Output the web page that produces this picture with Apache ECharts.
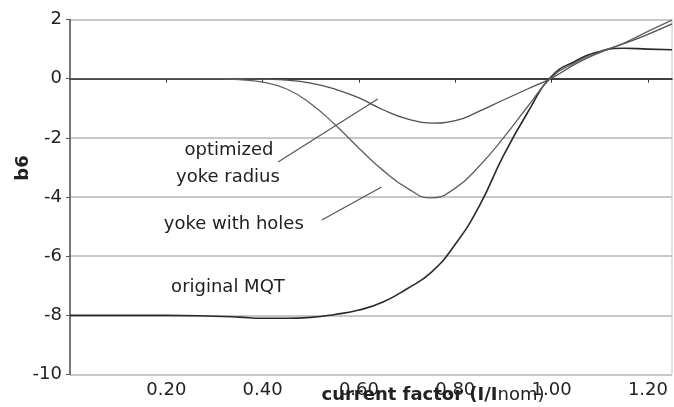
<!DOCTYPE html>
<html>
<head>
<meta charset="utf-8">
<script src="https://cdn.jsdelivr.net/npm/echarts/dist/echarts.min.js"></script>
<style>
  html, body { margin: 0; padding: 0; background: #fff; }
  #chart { width: 674px; height: 407px; }
</style>
</head>
<body>
<div id="chart"></div>
<script>
// current factor I/Inom
const xValues = [0, 0.1, 0.2, 0.3, 0.35, 0.4, 0.45, 0.5, 0.55, 0.6, 0.65, 0.7, 0.75, 0.8, 0.85, 0.9, 0.95, 1.0, 1.05, 1.1, 1.15, 1.2, 1.25]
// b6 values
const mqtValues = [-8.0, -8.0, -8.0, -8.03, -8.06, -8.1, -8.1, -8.07, -7.97, -7.82, -7.55, -7.1, -6.55, -5.6, -4.3, -2.6, -1.15, 0.08, 0.6, 0.92, 1.03, 1.0, 0.98]
const optimizedValues = [0, 0, 0, 0, 0, -0.02, -0.05, -0.15, -0.35, -0.65, -1.05, -1.36, -1.5, -1.42, -1.1, -0.72, -0.35, 0.02, 0.5, 0.88, 1.18, 1.5, 1.85]
const holesValues = [0, 0, 0, 0, -0.03, -0.12, -0.35, -0.85, -1.55, -2.35, -3.1, -3.7, -4.03, -3.7, -2.95, -2.0, -0.95, 0.05, 0.55, 0.9, 1.2, 1.6, 1.98]

// curve labels, [x, y, text]
const notes = [
  [0.330, -2.41, 'optimized'],
  [0.328, -3.32, 'yoke radius'],
  [0.340, -4.94, 'yoke with holes'],
  [0.328, -7.07, 'original MQT']
]
// leader lines from labels to curves
const leaders = [
  [[0.432, -2.82], [0.639, -0.69]],
  [[0.523, -4.78], [0.647, -3.66]]
]

const FONT = 'DejaVu Sans'
const pairs = ys => xValues.map((x, i) => [x, ys[i]])

const chart = echarts.init(document.getElementById('chart'))

const curve = (name, ys, color, width) => ({
  name,
  type: 'line',
  data: pairs(ys),
  smooth: true,
  showSymbol: false,
  lineStyle: { color, width },
  z: 3
})

chart.setOption({
  animation: false,
  grid: {
    left: 70, right: 2, top: 19.5, bottom: 32.5,
    show: true, borderColor: '#c4c4c4', borderWidth: 1
  },
  xAxis: {
    type: 'value',
    min: 0,
    max: 1.25,
    interval: 0.2,
    axisLine: { onZero: true, lineStyle: { color: '#111', width: 1.5 } },
    axisTick: { show: true, length: 4, lineStyle: { color: '#333' } },
    axisLabel: {
      margin: 7,
      showMinLabel: false,
      showMaxLabel: false,
      fontFamily: FONT,
      fontSize: 18,
      color: '#222',
      formatter: v => v.toFixed(2)
    },
    splitLine: { show: false }
  },
  yAxis: {
    type: 'value',
    min: -10,
    max: 2,
    interval: 2,
    axisLine: { show: true, lineStyle: { color: '#555', width: 1.5 } },
    axisTick: { show: true, length: 4, lineStyle: { color: '#555' } },
    axisLabel: { margin: 8, fontFamily: FONT, fontSize: 18, color: '#222' },
    splitLine: { lineStyle: { color: '#c8c8c8', width: 2 } }
  },
  series: [
    curve('original MQT', mqtValues, '#2a2a2a', 1.6),
    curve('optimized yoke radius', optimizedValues, '#505050', 1.3),
    curve('yoke with holes', holesValues, '#606060', 1.3),
    {
      name: 'notes',
      type: 'scatter',
      symbolSize: 0,
      itemStyle: { opacity: 1 },
      data: notes.map(n => ({ value: [n[0], n[1]], name: n[2] })),
      label: {
        show: true,
        position: 'inside',
        formatter: p => p.name,
        fontFamily: FONT,
        fontSize: 18,
        color: '#222',
        textBorderWidth: 0
      },
      silent: true,
      z: 5
    },
    {
      name: 'leaders',
      type: 'line',
      data: [],
      markLine: {
        silent: true,
        symbol: 'none',
        label: { show: false },
        lineStyle: { color: '#555', width: 1.2, type: 'solid' },
        data: leaders.map(l => [{ coord: l[0] }, { coord: l[1] }])
      }
    }
  ],
  graphic: [
    {
      type: 'text',
      x: 433, y: 395,
      style: {
        text: '{b|current factor (I/I}{n|nom)}',
        rich: {
          b: { fontFamily: FONT, fontSize: 18, fontWeight: 'bold', fill: '#222' },
          n: { fontFamily: FONT, fontSize: 18, fill: '#222' }
        },
        align: 'center',
        verticalAlign: 'middle'
      }
    },
    {
      type: 'text',
      x: 23, y: 168,
      rotation: Math.PI / 2,
      style: {
        text: 'b6',
        fontFamily: FONT,
        fontSize: 18,
        fontWeight: 'bold',
        fill: '#222',
        align: 'center',
        verticalAlign: 'middle'
      }
    }
  ]
})

window.addEventListener('resize', () => chart.resize())
</script>
</body>
</html>
